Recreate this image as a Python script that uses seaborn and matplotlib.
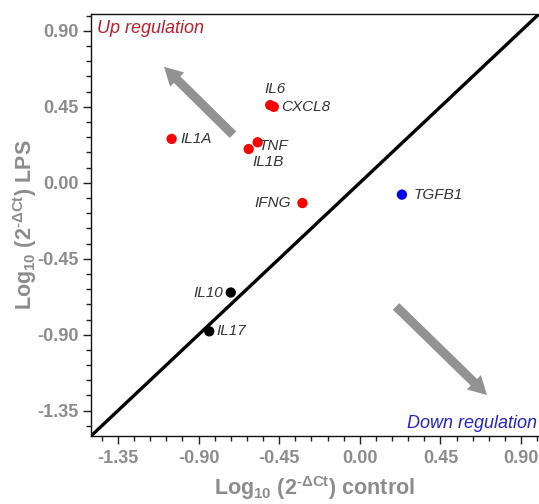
import matplotlib
matplotlib.use("Agg")
import matplotlib.pyplot as plt
import matplotlib.ticker as mticker
import seaborn as sns
import pandas as pd
import numpy as np

# ---- data ----
genes = ["IL1A", "IL6", "CXCL8", "TNF", "IL1B", "IFNG", "TGFB1", "IL10", "IL17"]
log_control = [-1.05, -0.50, -0.48, -0.57, -0.62, -0.32, 0.235, -0.72, -0.84]
log_lps = [0.26, 0.46, 0.45, 0.24, 0.20, -0.12, -0.07, -0.65, -0.88]
group = ["up", "up", "up", "up", "up", "up", "down", "none", "none"]
x_ticks = [-1.35, -0.90, -0.45, 0.00, 0.45, 0.90]
y_ticks = [-1.35, -0.90, -0.45, 0.00, 0.45, 0.90]

df = pd.DataFrame({"gene": genes, "control": log_control, "lps": log_lps, "group": group})

# label offsets (points) and alignment
label_style = {
    "IL1A": ((6.5, 0), "left"),
    "IL6": ((-4, 11.5), "left"),
    "CXCL8": ((5.5, 0), "left"),
    "TNF": ((1, -2.5), "left"),
    "IL1B": ((3, -9.5), "left"),
    "IFNG": ((-8.5, 0), "right"),
    "TGFB1": ((8.4, 0), "left"),
    "IL10": ((-5.5, 0), "right"),
    "IL17": ((5.3, 0), "left"),
}

sns.set_style("ticks")
plt.rcParams["font.family"] = ["Liberation Sans", "DejaVu Sans"]
plt.rcParams["axes.unicode_minus"] = False
plt.rcParams["mathtext.fontset"] = "custom"
plt.rcParams["mathtext.rm"] = "Liberation Sans"
plt.rcParams["mathtext.bf"] = "Liberation Sans:bold"
plt.rcParams["mathtext.it"] = "Liberation Sans:italic"

fig = plt.figure(figsize=(5.39, 5.04), dpi=100)
ax = fig.add_axes([91 / 539, (504 - 436) / 504, 448 / 539, 422 / 504])

lo, hi = -1.5, 1.0
ax.set_xlim(lo, hi)
ax.set_ylim(lo, hi)

# identity line
ax.plot([lo, hi], [lo, hi], color="black", lw=2.4, solid_capstyle="round", zorder=2)

sns.scatterplot(data=df, x="control", y="lps", hue="group",
                palette={"up": "#ff0000", "down": "#0000ee", "none": "#000000"},
                s=55, edgecolor="none", legend=False, ax=ax, zorder=3)

for g, xv, yv in zip(genes, log_control, log_lps):
    off, ha = label_style[g]
    ax.annotate(g, (xv, yv), xytext=off, textcoords="offset points",
                ha=ha, va="center", fontsize=11, style="italic", color="#333333", zorder=4)

# arrows
arrow_kw = dict(arrowstyle="simple,head_length=1.1,head_width=1.2,tail_width=0.55",
                mutation_scale=12, color="#929292", lw=0, shrinkA=0, shrinkB=0)
ax.annotate("", xy=(0.163, 0.875), xytext=(0.317, 0.714), xycoords="axes fraction",
            textcoords="axes fraction", arrowprops=arrow_kw)
ax.annotate("", xy=(0.884, 0.097), xytext=(0.681, 0.307), xycoords="axes fraction",
            textcoords="axes fraction", arrowprops=arrow_kw)

ax.text(0.013, 0.965, "Up regulation", transform=ax.transAxes, ha="left", va="center",
        fontsize=13, style="italic", color="#b81f2a")
ax.text(0.995, 0.03, "Down regulation", transform=ax.transAxes, ha="right", va="center",
        fontsize=13, style="italic", color="#2323c8")

ax.xaxis.set_major_locator(mticker.FixedLocator(x_ticks))
ax.yaxis.set_major_locator(mticker.FixedLocator(y_ticks))
ax.xaxis.set_minor_locator(mticker.MultipleLocator(0.09))
ax.yaxis.set_minor_locator(mticker.MultipleLocator(0.09))
ax.xaxis.set_major_formatter(mticker.FormatStrFormatter("%.2f"))
ax.yaxis.set_major_formatter(mticker.FormatStrFormatter("%.2f"))
ax.tick_params(which="major", direction="out", length=6, width=1, color="#222222",
               labelsize=13, labelcolor="#8c8c8c", pad=3)
ax.tick_params(axis="x", which="major", pad=4)
ax.tick_params(which="minor", direction="out", length=3.5, width=1, color="#222222")
for lab in ax.get_xticklabels() + ax.get_yticklabels():
    lab.set_fontweight("bold")

for s in ["left", "bottom", "top"]:
    ax.spines[s].set_color("#111111")
    ax.spines[s].set_linewidth(1.0)
ax.spines["right"].set_visible(False)

ax.set_xlabel("Log$_{\\mathbf{10}}$ (2$^{\\mathbf{\u2010\\Delta Ct}}$) control", fontsize=15.5,
              fontweight="bold", color="#8c8c8c", labelpad=5)
ax.set_ylabel("Log$_{\\mathbf{10}}$ (2$^{\\mathbf{\u2010\\Delta Ct}}$) LPS", fontsize=15.5,
              fontweight="bold", color="#8c8c8c")
ax.yaxis.set_label_coords(-0.115, 0.5)

fig.savefig("out.png", dpi=100)
